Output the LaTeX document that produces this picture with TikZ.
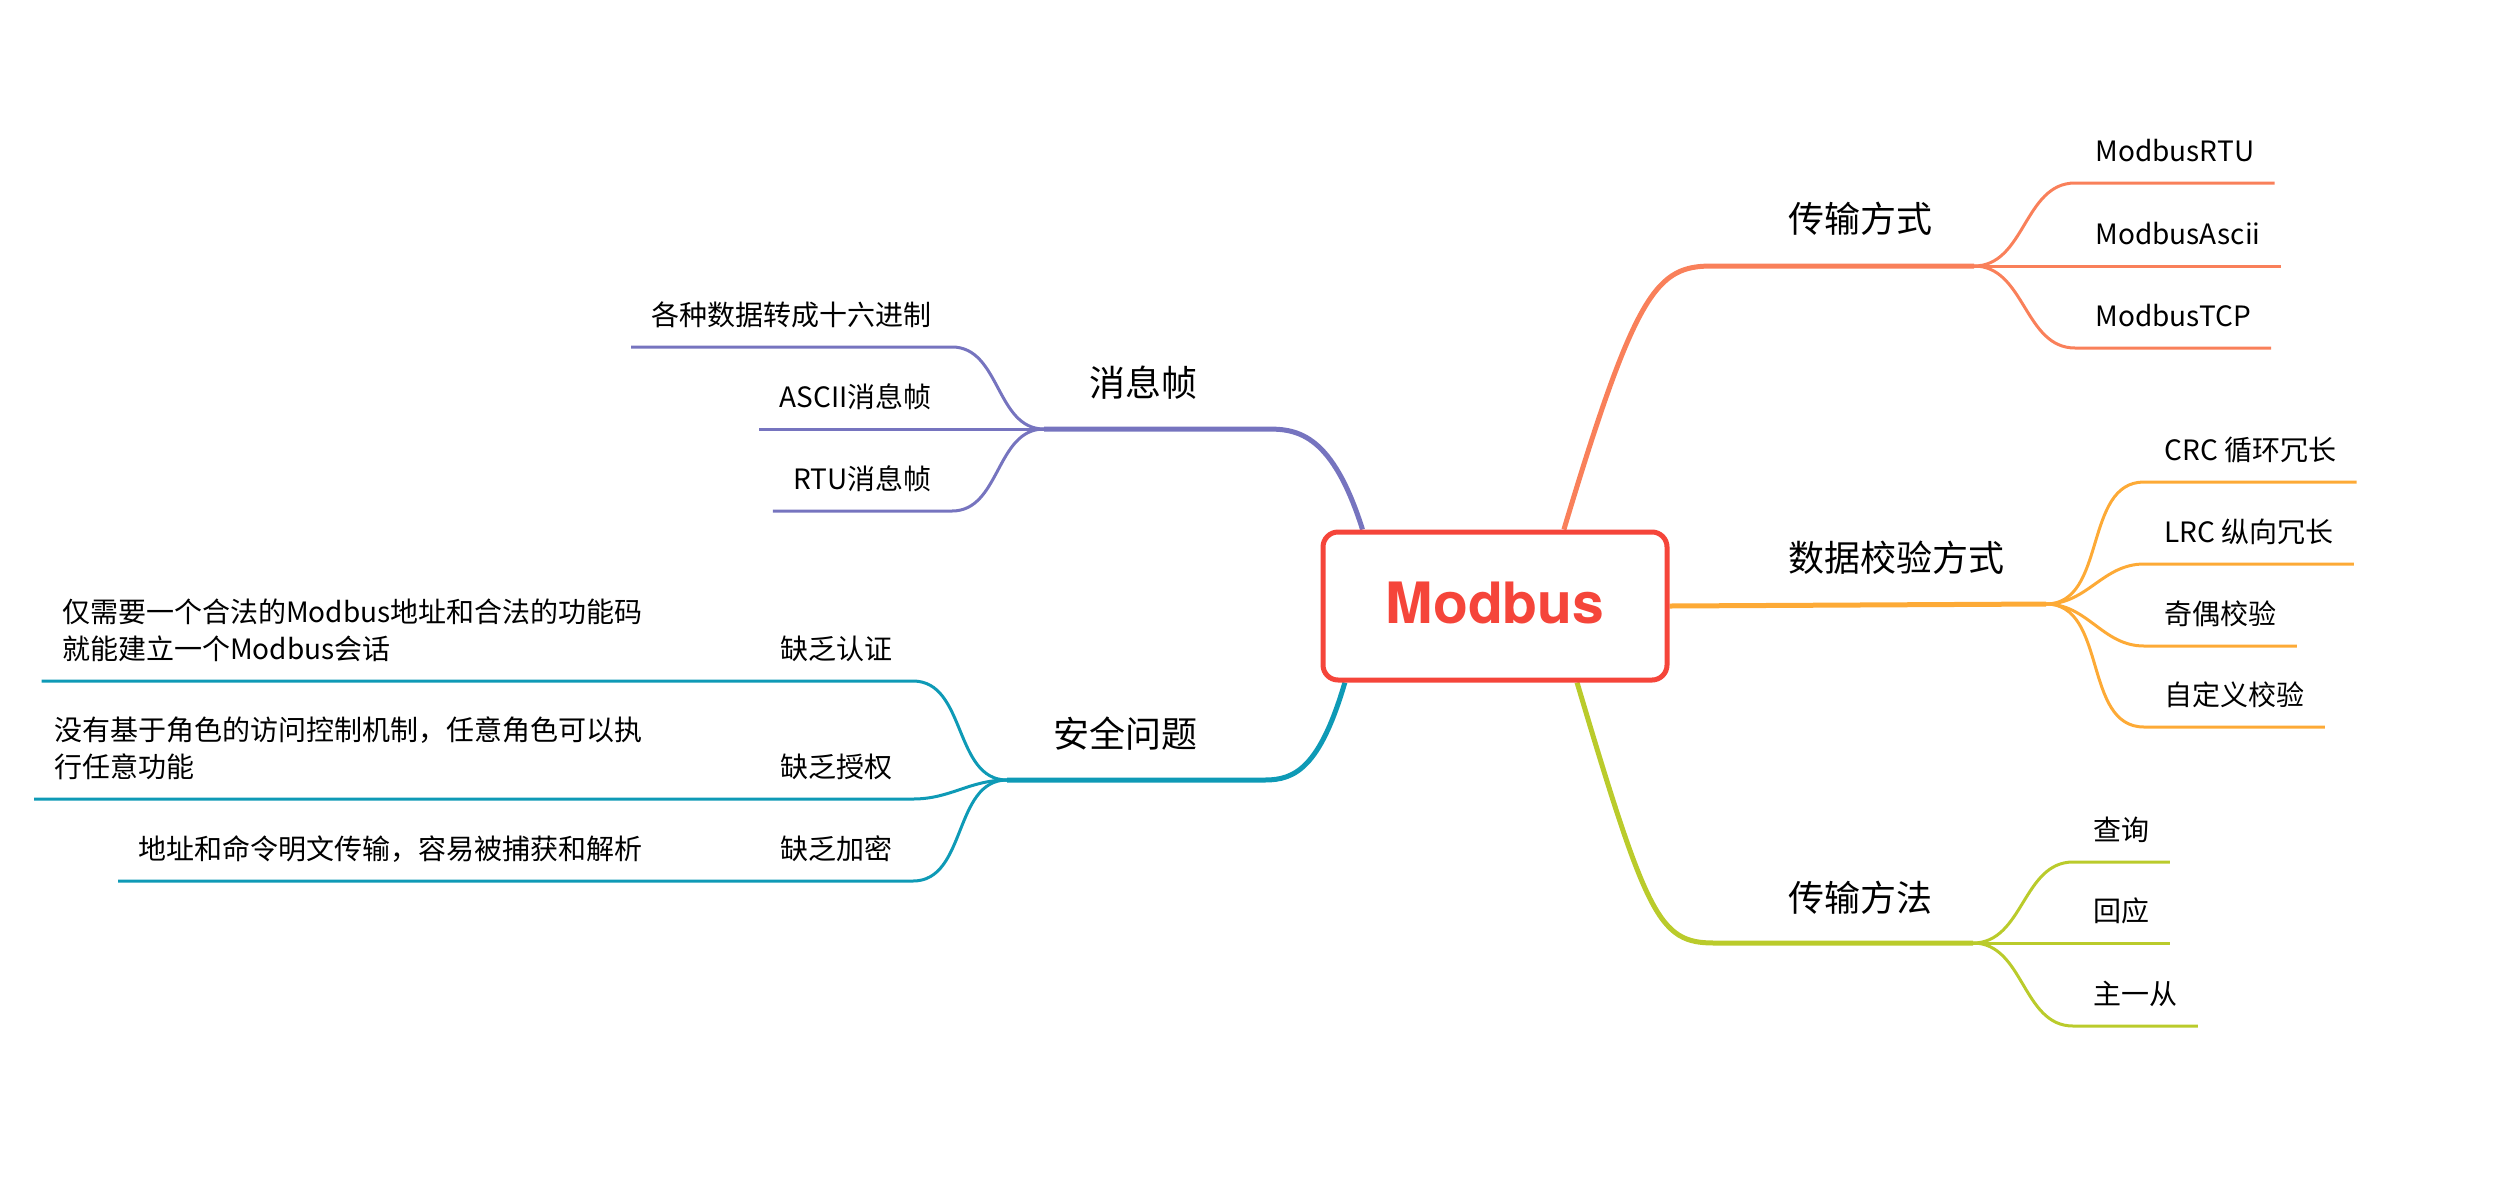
\documentclass[tikz,border=0pt]{standalone}
\usepackage{fontspec}
\setmainfont{Noto Sans CJK SC}
\newfontfamily\heros{TeX Gyre Heros}
\usetikzlibrary{positioning,calc}
\definecolor{myred}{RGB}{245,69,58}
\definecolor{myorange}{RGB}{249,128,90}
\definecolor{myamber}{RGB}{253,170,54}
\definecolor{mylime}{RGB}{186,203,43}
\definecolor{mypurple}{RGB}{118,116,191}
\definecolor{myteal}{RGB}{14,154,182}
\pgfdeclarelayer{background}
\pgfsetlayers{background,main}
% leaf connectors: colour, junction, leaf node
\newcommand\twig[3]{
    \draw[subl,#1] (#2) to[out=0,in=180] (#3.south west) -- (#3.south east);
}
\newcommand\lefttwig[3]{
    \draw[subl,#1] (#2) to[out=180,in=0] (#3.south east) -- (#3.south west);
}
\begin{document}
\begin{tikzpicture}[x=0.5pt,y=-0.5pt,
        rootb/.style={
            draw=myred,
            line width=2.5pt,
            fill=white,
            rounded corners=7.5pt,
            minimum width=172pt,
            minimum height=74pt,
            text depth=3.5pt,
            font={\heros\bfseries\fontsize{28.5pt}{34pt}\selectfont\color{myred}}},
        topicb/.style={inner sep=0pt,font={\fontsize{18pt}{22pt}\selectfont}},
        leafb/.style={inner xsep=10pt,inner ysep=10.5pt,text depth=0pt,
            font={\fontsize{14pt}{18.5pt}\selectfont}},
        rleaf/.style={leafb,anchor=south west},
        lleaf/.style={leafb,anchor=south east},
        mainl/.style={line width=2.5pt},
        subl/.style={line width=1.5pt},
    ]
    \useasboundingbox (0,0) rectangle (2520,1200);

    \node[rootb] (modbus) at (1495,606) {Modbus};

    % branch topics
    \node[topicb,anchor=base west] (trans) at (1788,232) {传输方式};
    \node[topicb,anchor=base west] (check) at (1788,571) {数据校验方式};
    \node[topicb,anchor=base west] (method) at (1788,911) {传输方法};
    \node[topicb,anchor=base east] (frame) at (1198,396) {消息帧};
    \node[topicb,anchor=base east] (safe) at (1198,747) {安全问题};

    % junctions and bends
    \coordinate (transk) at (1712,266);
    \coordinate (transj) at (1974,266);
    \coordinate (checkj) at (2046,604);
    \coordinate (methodk) at (1714,943);
    \coordinate (methodj) at (1973,943);
    \coordinate (framek) at (1268,429);
    \coordinate (framej) at (1044,429);
    \coordinate (safek) at (1265,780);
    \coordinate (safej) at (1007,780);

    % leaves, right side
    \node[rleaf] (mrtu) at (2075,183) {ModbusRTU};
    \node[rleaf] (mascii) at (2075,266) {ModbusAscii};
    \node[rleaf] (mtcp) at (2075,348) {ModbusTCP};

    \node[rleaf] (crc) at (2144,482) {CRC 循环冗长};
    \node[rleaf] (lrc) at (2144,564) {LRC 纵向冗长};
    \node[rleaf] (parity) at (2144,646) {奇偶校验};
    \node[rleaf] (custom) at (2144,727) {自定义校验};

    \node[rleaf] (query) at (2073,862) {查询};
    \node[rleaf] (reply) at (2073,943) {回应};
    \node[rleaf] (master) at (2073,1026) {主一从};

    % leaves, left side
    \node[lleaf] (hexn) at (952,347) {各种数据转成十六进制};
    \node[lleaf] (asciin) at (952,429) {ASCII消息帧};
    \node[lleaf] (rtun) at (952,511) {RTU消息帧};

    \node[lleaf] (authn) at (913,681) {\begin{tabular}[b]{@{}l@{}}仅需要一个合法的Modbus地址和合法的功能码\\就能建立一个Modbus会话\end{tabular}\hspace{69pt}缺乏认证};
    \node[lleaf] (authz) at (913,799) {\begin{tabular}[b]{@{}l@{}}没有基于角色的访问控制机制，任意角色可以执\\行任意功能\end{tabular}\hspace{69pt}缺乏授权};
    \node[lleaf] (crypt) at (913,881) {地址和命令明文传输，容易被捕获和解析\hspace{69pt}缺乏加密};

    \begin{pgfonlayer}{background}
        \draw[mainl,myorange] (modbus.48) .. controls +(72,-240) and +(-55,0) .. (transk) -- (transj);
        \draw[mainl,myamber] (modbus.east) -- (checkj);
        \draw[mainl,mylime] (modbus.317) .. controls +(70,235) and +(-55,0) .. (methodk) -- (methodj);
        \draw[mainl,mypurple] (modbus.150) .. controls +(-30,-95) and +(30,0) .. (framek) -- (framej);
        \draw[mainl,myteal] (modbus.207) .. controls +(-25,85) and +(30,0) .. (safek) -- (safej);

        \twig{myorange}{transj}{mrtu}
        \twig{myorange}{transj}{mascii}
        \twig{myorange}{transj}{mtcp}
        \twig{myamber}{checkj}{crc}
        \twig{myamber}{checkj}{lrc}
        \twig{myamber}{checkj}{parity}
        \twig{myamber}{checkj}{custom}
        \twig{mylime}{methodj}{query}
        \twig{mylime}{methodj}{reply}
        \twig{mylime}{methodj}{master}
        \lefttwig{mypurple}{framej}{hexn}
        \lefttwig{mypurple}{framej}{asciin}
        \lefttwig{mypurple}{framej}{rtun}
        \lefttwig{myteal}{safej}{authn}
        \lefttwig{myteal}{safej}{authz}
        \lefttwig{myteal}{safej}{crypt}
    \end{pgfonlayer}
\end{tikzpicture}
\end{document}
